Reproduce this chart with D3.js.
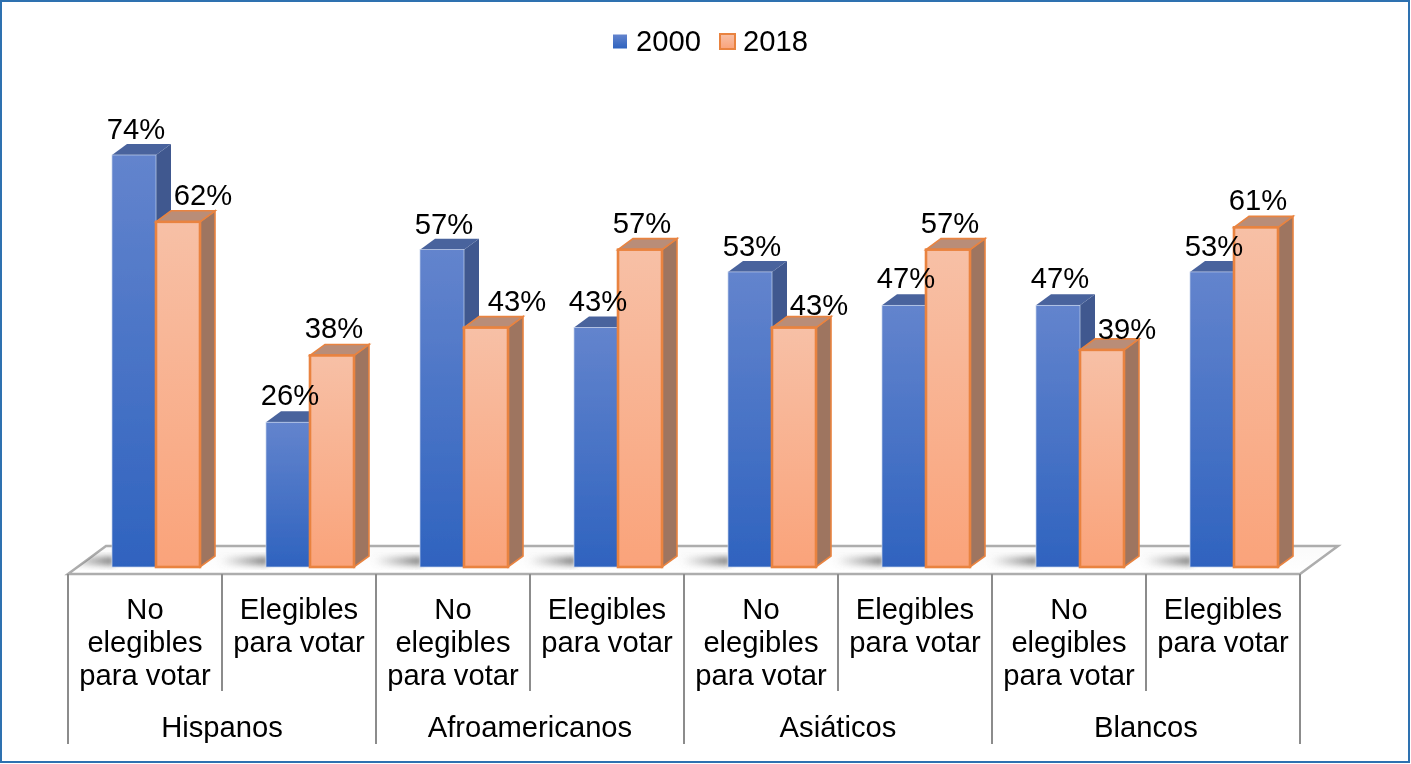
<!DOCTYPE html>
<html>
<head>
<meta charset="utf-8">
<script src="https://cdn.jsdelivr.net/npm/d3@7"></script>
<style>
  html, body { margin: 0; padding: 0; background: #fff; }
  svg { display: block; font-family: "Liberation Sans", Arial, sans-serif; }
</style>
</head>
<body>
<div id="chart"></div>
<script>
const groups = ["Hispanos", "Afroamericanos", "Asiáticos", "Blancos"];
const subLabels = [
  ["No", "elegibles", "para votar"],
  ["Elegibles", "para votar"]
];
const seriesNames = ["2000", "2018"];
const values2000 = [74, 26, 57, 43, 53, 47, 47, 53];
const values2018 = [62, 38, 43, 57, 43, 57, 39, 61];

// hand placed data labels, same as in the original (x shift, lift above bar)
const shift2000 = [2, 2, 2, 2, 2, 2, 2, 2];
const lift2000 = [16, 17, 16, 17, 16, 17, 17, 16];
const shift2018 = [25, 2, 31, 2, 25, 2, 25, 2];
const lift2018 = [17, 17, 17, 17, 13, 17, 11, 17];

const width = 1411;
const height = 764;
const fontSize = 29.2;
const dx = 15;
const dy = 11;
const floorTop = 546;
const floorFront = 574;

const svg = d3.select("#chart").append("svg")
  .attr("width", width)
  .attr("height", height);

const defs = svg.append("defs");

function vGrad(id, top, bottom) {
  const g = defs.append("linearGradient").attr("id", id)
    .attr("x1", 0).attr("y1", 0).attr("x2", 0).attr("y2", 1);
  g.append("stop").attr("offset", "0%").attr("stop-color", top);
  g.append("stop").attr("offset", "100%").attr("stop-color", bottom);
}
vGrad("blueFace", "#6384cd", "#2f63bf");
vGrad("orangeFace", "#f7c0a6", "#faa37a");
vGrad("floorFill", "#fafafa", "#ffffff");

const shadowGrad = defs.append("linearGradient").attr("id", "shadowFill");
shadowGrad.append("stop").attr("offset", "0%").attr("stop-color", "#777").attr("stop-opacity", 0);
shadowGrad.append("stop").attr("offset", "100%").attr("stop-color", "#555").attr("stop-opacity", 0.85);

defs.append("filter").attr("id", "soft")
  .attr("x", "-20%").attr("y", "-60%").attr("width", "140%").attr("height", "220%")
  .append("feGaussianBlur").attr("stdDeviation", 3);
defs.append("filter").attr("id", "photo")
  .attr("x", 0).attr("y", 0).attr("width", 1).attr("height", 1)
  .attr("filterUnits", "objectBoundingBox")
  .append("feGaussianBlur").attr("stdDeviation", 0.55);

const floorPoints = [[68, floorFront], [106, floorTop], [1338, floorTop], [1300, floorFront]];
defs.append("clipPath").attr("id", "floorClip")
  .append("polygon").attr("points", floorPoints.join(" "));

const root = svg.append("g").attr("filter", "url(#photo)");

root.append("rect")
  .attr("width", width).attr("height", height).attr("fill", "#fff");

// outer frame
root.append("rect")
  .attr("x", 1).attr("y", 1)
  .attr("width", width - 3).attr("height", height - 3)
  .attr("fill", "none")
  .attr("stroke", "#2e71b0")
  .attr("stroke-width", 2);

const x0 = d3.scaleBand().domain(d3.range(8)).range([68, 1300]);
const x1 = d3.scaleBand().domain(seriesNames).range([44, 132]);
const y = d3.scaleLinear().domain([0, 74]).range([567, 155]);

// floor
root.append("polygon")
  .attr("points", floorPoints.join(" "))
  .attr("fill", "url(#floorFill)")
  .attr("stroke", "#adadad")
  .attr("stroke-width", 2.5);

// shadows on the floor
root.append("g")
  .attr("clip-path", "url(#floorClip)")
  .append("g")
  .selectAll("rect")
  .data(d3.range(8))
  .join("rect")
  .attr("x", (d) => x0(d) + x1("2000") - 46)
  .attr("y", 557)
  .attr("width", 48)
  .attr("height", 8)
  .attr("fill", "url(#shadowFill)")
  .attr("filter", "url(#soft)");

// axis dividers
const dividers = root.append("g").attr("stroke", "#8c8c8c").attr("stroke-width", 2);
dividers.selectAll("line.outer")
  .data(d3.range(0, 9, 2))
  .join("line")
  .attr("class", "outer")
  .attr("x1", (d) => 68 + d * x0.bandwidth())
  .attr("x2", (d) => 68 + d * x0.bandwidth())
  .attr("y1", floorFront)
  .attr("y2", 744);
dividers.selectAll("line.inner")
  .data(d3.range(1, 8, 2))
  .join("line")
  .attr("class", "inner")
  .attr("x1", (d) => 68 + d * x0.bandwidth())
  .attr("x2", (d) => 68 + d * x0.bandwidth())
  .attr("y1", floorFront)
  .attr("y2", 691);

const styles = {
  "2000": { face: "url(#blueFace)", top: "#4a639d", side: "#3f598f", stroke: "#c3d1ec", sw: 0.7 },
  "2018": { face: "url(#orangeFace)", top: "#b98d78", side: "#9e7561", stroke: "#e9833f", sw: 2.6 }
};

const bars = seriesNames.flatMap((name) => {
  const vals = name === "2000" ? values2000 : values2018;
  return vals.map((v, i) => ({ name, v, i }));
}).sort((a, b) => a.i - b.i || a.name.localeCompare(b.name));

const bar = root.append("g").selectAll("g")
  .data(bars)
  .join("g");

bar.each(function (d) {
  const g = d3.select(this);
  const s = styles[d.name];
  const left = x0(d.i) + x1(d.name);
  const w = x1.bandwidth();
  const top = y(d.v);
  const base = y(0);
  g.append("polygon")
    .attr("points", [[left + w, top], [left + w + dx, top - dy], [left + w + dx, base - dy], [left + w, base]].join(" "))
    .attr("fill", s.side)
    .attr("stroke", d.name === "2000" ? "none" : s.stroke)
    .attr("stroke-width", 1.6);
  g.append("polygon")
    .attr("points", [[left, top], [left + dx, top - dy], [left + w + dx, top - dy], [left + w, top]].join(" "))
    .attr("fill", s.top)
    .attr("stroke", d.name === "2000" ? "none" : s.stroke)
    .attr("stroke-width", 1.6);
  g.append("rect")
    .attr("x", left)
    .attr("y", top)
    .attr("width", w)
    .attr("height", base - top)
    .attr("fill", s.face)
    .attr("stroke", s.stroke)
    .attr("stroke-width", s.sw);
});

// data labels
root.append("g")
  .attr("font-size", fontSize)
  .attr("fill", "#000")
  .attr("text-anchor", "middle")
  .selectAll("text")
  .data(bars)
  .join("text")
  .attr("x", (d) => {
    const shift = d.name === "2000" ? shift2000[d.i] : shift2018[d.i];
    return x0(d.i) + x1(d.name) + x1.bandwidth() / 2 + shift;
  })
  .attr("y", (d) => {
    const lift = d.name === "2000" ? lift2000[d.i] : lift2018[d.i];
    return y(d.v) - lift;
  })
  .text((d) => d.v + "%");

// category labels
const cat = root.append("g")
  .attr("font-size", fontSize)
  .attr("fill", "#000")
  .attr("text-anchor", "middle");

cat.selectAll("g")
  .data(d3.range(8))
  .join("g")
  .each(function (i) {
    d3.select(this).selectAll("text")
      .data(subLabels[i % 2])
      .join("text")
      .attr("x", x0(i) + x0.bandwidth() / 2)
      .attr("y", (d, k) => 619 + k * 33)
      .text((d) => d);
  });

cat.selectAll("text.group")
  .data(groups)
  .join("text")
  .attr("class", "group")
  .attr("x", (d, i) => x0(i * 2) + x0.bandwidth())
  .attr("y", 737)
  .text((d) => d);

// legend
const legend = root.append("g").attr("font-size", fontSize).attr("fill", "#000");
legend.append("rect")
  .attr("x", 613).attr("y", 34.5).attr("width", 14).attr("height", 14)
  .attr("fill", "url(#blueFace)");
legend.append("text").attr("x", 636).attr("y", 51).text(seriesNames[0]);
legend.append("rect")
  .attr("x", 720).attr("y", 34).attr("width", 15).attr("height", 15)
  .attr("fill", "url(#orangeFace)")
  .attr("stroke", "#e9833f")
  .attr("stroke-width", 2);
legend.append("text").attr("x", 743).attr("y", 51).text(seriesNames[1]);
</script>
</body>
</html>
